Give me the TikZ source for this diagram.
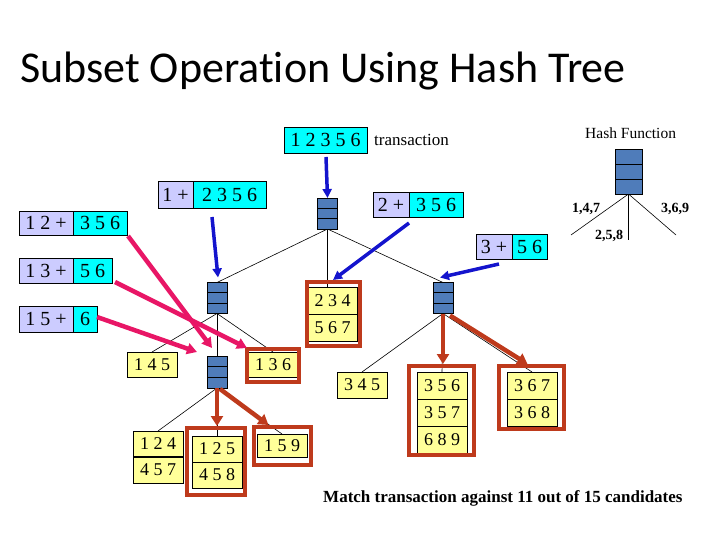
\documentclass[tikz,border=0pt]{standalone}
\usepackage{fontspec}
\setmainfont{Liberation Serif}
\newfontfamily\titlefont[Ligatures=NoCommon]{Carlito}
\usetikzlibrary{arrows.meta,calc}
\pgfdeclarelayer{background}
\pgfsetlayers{background,main}
\definecolor{hashblue}{RGB}{79,124,186}
\definecolor{lav}{RGB}{204,204,255}
\definecolor{cy}{RGB}{0,255,255}
\definecolor{yel}{RGB}{255,255,153}
\definecolor{framered}{RGB}{190,58,28}
\definecolor{pinkc}{RGB}{232,22,102}
\definecolor{arrblue}{RGB}{20,20,205}
\tikzset{
 hashbox/.style={draw=black, line width=0.7, fill=hashblue, minimum width=20, minimum height=31, inner sep=0, outer sep=0,
  path picture={
   \draw[line width=0.7] ($(path picture bounding box.north west)!0.3333!(path picture bounding box.south west)$) -- ($(path picture bounding box.north east)!0.3333!(path picture bounding box.south east)$);
   \draw[line width=0.7] ($(path picture bounding box.north west)!0.6667!(path picture bounding box.south west)$) -- ($(path picture bounding box.north east)!0.6667!(path picture bounding box.south east)$);
  }},
 cand/.style={draw=black, line width=0.7, fill=yel, minimum width=50, inner sep=0, outer sep=0},
 ctext/.style={font=\fontsize{18}{20}\selectfont, inner sep=0},
 lavbox/.style={draw=black, line width=0.7, fill=lav, inner sep=0, outer sep=0, font=\fontsize{20}{22}\selectfont},
 cybox/.style={draw=black, line width=0.7, fill=cy, inner sep=0, outer sep=0, font=\fontsize{20}{22}\selectfont},
 redframe/.style={draw=framered, line width=4, inner sep=0, outer sep=0},
 edge/.style={line width=0.6, black},
 divider/.style={line width=0.7, black},
 bluearr/.style={draw=arrblue, line width=3.5, -{Triangle[length=9pt,width=9pt]}},
 redarr/.style={draw=framered, line width=4.5, -{Triangle[length=10pt,width=12pt]}},
 pinkarr/.style={draw=pinkc, line width=4.5, -{Triangle[length=10pt,width=11pt]}},
 lbl/.style={inner sep=0, anchor=base west},
}
\begin{document}
\begin{tikzpicture}[x=1pt,y=-1pt]
\useasboundingbox (0,0) rectangle (720,540);

% title
\node[lbl, font=\titlefont\fontsize{44}{50}\selectfont] (title) at (20,83) {Subset Operation Using Hash Tree};

% transaction
\node[cybox, minimum width=83, minimum height=26] (t0) at (325.5,140) {1 2 3 5 6};
\node[lbl, font=\fontsize{17}{20}\selectfont] (txl) at (374,146) {transaction};

% hash function legend
\node[lbl, font=\fontsize{15.5}{18}\selectfont] (hfl) at (585,139) {Hash Function};
\node[hashbox, minimum width=27, minimum height=45] (hF) at (628.5,171.5) {};
\coordinate (hf1) at (571,235);
\coordinate (hf2) at (628.5,240);
\coordinate (hf3) at (676,235);
\node[lbl, font=\bfseries\fontsize{14}{16}\selectfont] (l147) at (572,212) {1,4,7};
\node[lbl, font=\bfseries\fontsize{14}{16}\selectfont] (l258) at (595,240) {2,5,8};
\node[lbl, font=\bfseries\fontsize{14}{16}\selectfont] (l369) at (661,212) {3,6,9};

% hash nodes
\node[hashbox] (h0) at (327.5,213.5) {};
\node[hashbox] (hL) at (217,298) {};
\node[hashbox] (hR) at (443,298) {};
\node[hashbox, minimum height=32] (hLL) at (217,372) {};

% candidate boxes
\node[cand, minimum height=54] (c234) at (332.5,314) {};
\node[cand, minimum height=25] (c145) at (152,364.5) {};
\node[cand, minimum height=25] (c136) at (273,364.5) {};
\node[cand, minimum height=52] (c124) at (158,457) {};
\node[cand, minimum height=52] (c125) at (217,462) {};
\node[cand, minimum height=23] (c159) at (282,445.5) {};
\node[cand, minimum height=26] (c345) at (362,385) {};
\node[cand, minimum height=81] (c356) at (442,412.5) {};
\node[cand, minimum height=54] (c367) at (532,399) {};

% thin tree edges (behind nodes)
\begin{pgfonlayer}{background}
\draw[edge] (hF.south) -- (hf1);
\draw[edge] (hF.south) -- (hf2);
\draw[edge] (hF.south) -- (hf3);
\draw[edge] (h0.south) -- (hL.north);
\draw[edge] (h0.south) -- (h0.south |- c234.north);
\draw[edge] (h0.south) -- (hR.north);
\draw[edge] (hL.south) -- (c145.north);
\draw[edge] (hL.south) -- (hLL.north);
\draw[edge] (hL.south) -- (c136.north);
\draw[edge] (hLL.south) -- (c124.north);
\draw[edge] (hLL.south) -- (c125.north);
\draw[edge] (hLL.south) -- (c159.north);
\draw[edge] (hR.south) -- (c345.north);
\draw[edge] (hR.south) -- (c356.north);
\draw[edge] (hR.south) -- (c367.north);
\end{pgfonlayer}

% candidate texts and dividers
\node[ctext] (x234) at (332.5,300.5) {2 3 4};
\node[ctext] (x567) at (332.5,327.5) {5 6 7};
\draw[divider] (c234.west |- 0,314) -- (c234.east |- 0,314);
\node[ctext] (x145) at (152,364.5) {1 4 5};
\node[ctext] (x136) at (273,364.5) {1 3 6};
\node[ctext] (x124) at (158,444) {1 2 4};
\node[ctext] (x457) at (158,470) {4 5 7};
\draw[line width=1.6] (c124.west |- 0,457) -- (c124.east |- 0,457);
\node[ctext] (x125) at (217,449) {1 2 5};
\node[ctext] (x458) at (217,475) {4 5 8};
\draw[divider] (c125.west |- 0,462) -- (c125.east |- 0,462);
\node[ctext] (x159) at (282,445.5) {1 5 9};
\node[ctext] (x345) at (362,385) {3 4 5};
\node[ctext] (x356) at (442,385.5) {3 5 6};
\node[ctext] (x357) at (442,412.5) {3 5 7};
\node[ctext] (x689) at (442,439.5) {6 8 9};
\draw[divider] (c356.west |- 0,399) -- (c356.east |- 0,399);
\draw[divider] (c356.west |- 0,426) -- (c356.east |- 0,426);
\node[ctext] (x367) at (532,385.5) {3 6 7};
\node[ctext] (x368) at (532,412.5) {3 6 8};
\draw[divider] (c367.west |- 0,399) -- (c367.east |- 0,399);

% red frames
\node[redframe, minimum width=53, minimum height=64] (f234) at (333,314) {};
\node[redframe, minimum width=52, minimum height=33] (f136) at (273,365.5) {};
\node[redframe, minimum width=58, minimum height=67] (f125) at (216,461.5) {};
\node[redframe, minimum width=57, minimum height=38] (f159) at (282.5,446) {};
\node[redframe, minimum width=65, minimum height=89] (f356) at (441.5,410.5) {};
\node[redframe, minimum width=65, minimum height=63] (f367) at (531.5,397.5) {};

% prefix boxes
\node[lavbox, minimum width=35, minimum height=27] (p1) at (175.5,194.5) {1 +};
\node[cybox, minimum width=73, minimum height=27] (s1) at (229.5,194.5) {2 3 5 6};
\node[lavbox, minimum width=36, minimum height=25] (p2) at (391,204.5) {2 +};
\node[cybox, minimum width=54, minimum height=25] (s2) at (436,204.5) {3 5 6};
\node[lavbox, minimum width=36, minimum height=25] (p3) at (494,246.5) {3 +};
\node[cybox, minimum width=35, minimum height=25] (s3) at (529.5,246.5) {5 6};
\node[lavbox, minimum width=54, minimum height=24] (p12) at (46,223) {1 2 +};
\node[cybox, minimum width=54, minimum height=24] (s12) at (100,223) {3 5 6};
\node[lavbox, minimum width=54, minimum height=25] (p13) at (46,270.5) {1 3 +};
\node[cybox, minimum width=39, minimum height=25] (s13) at (92.5,270.5) {5 6};
\node[lavbox, minimum width=54, minimum height=26] (p15) at (46,319) {1 5 +};
\node[cybox, minimum width=24, minimum height=26] (s15) at (85,319) {6};

% blue arrows
\draw[bluearr] ($(t0.south)+(0.5,4)$) -- (h0.north);
\draw[bluearr] ($(s1.south west)+(19,9)$) -- ($(hL.north)+(1,-5)$);
\draw[bluearr] ($(s2.south west)+(0,6)$) -- ($(f234.north)+(0,-2)$);
\draw[bluearr] ($(s3.south west)+(-13,5)$) -- ($(hR.north)+(-3,-5)$);

% pink arrows
\draw[pinkarr] ($(s12.south east)+(1,1)$) -- ($(hLL.north west)+(5,-8)$);
\draw[pinkarr] ($(s13.south east)+(3,-1)$) -- ($(f136.north west)+(0,-1)$);
\draw[pinkarr] ($(s15.east)+(0,-2)$) -- ($(hLL.north west)+(-10,-4)$);

% red arrows
\draw[redarr] (hLL.south) -- ($(hLL.south |- f125.north)+(0,-2)$);
\draw[redarr] ($(hLL.south)+(3,1)$) -- ($(f159.north)+(-14,-2)$);
\draw[redarr] (hR.south) -- ($(hR.south |- f356.north)+(0,-2)$);
\draw[redarr] ($(hR.south east)+(-3,2)$) -- ($(f367.north)+(-4,-2)$);

% bottom text
\node[lbl, font=\bfseries\fontsize{17}{20}\selectfont] (match) at (323,502) {Match transaction against 11 out of 15 candidates};
\end{tikzpicture}
\end{document}
